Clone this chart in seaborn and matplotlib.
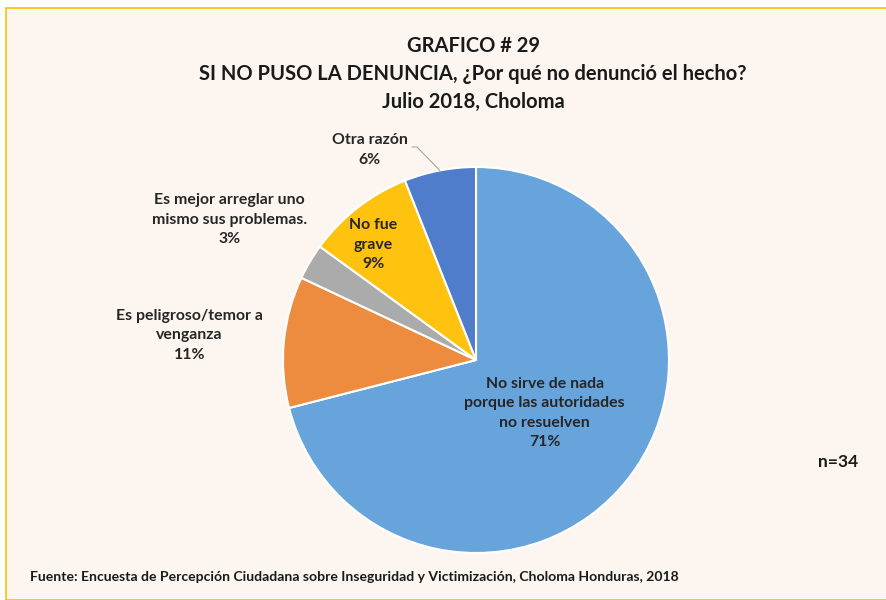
import matplotlib.pyplot as plt
import seaborn as sns
import numpy as np
from matplotlib.patches import Rectangle

# datos del grafico
categorias = ['No sirve de nada\nporque las autoridades\nno resuelven',
              'Es peligroso/temor a\nvenganza',
              'Es mejor arreglar uno\nmismo sus problemas.',
              'No fue\ngrave',
              'Otra razón']
porcentajes = [71, 11, 3, 9, 6]
colores = ['#67A4DB', '#ED8B3E', '#ABABAB', '#FFC20E', '#4F7CCB']

titulo = 'GRAFICO # 29\nSI NO PUSO LA DENUNCIA, ¿Por qué no denunció el hecho?\nJulio 2018, Choloma'
fuente = 'Fuente: Encuesta de Percepción Ciudadana sobre Inseguridad y Victimización, Choloma Honduras, 2018'
muestra = 'n=34'

sns.set_theme(style='white')
plt.rcParams['font.family'] = ['Lato', 'DejaVu Sans']

W, H = 886, 600
fig = plt.figure(figsize=(W / 100, H / 100), dpi=100)
fig.patch.set_facecolor('white')

# panel crema con borde amarillo
fig.patches.append(Rectangle((6 / W, 0), 1, 1 - 8 / H, transform=fig.transFigure,
                             facecolor='#FDF5EF', edgecolor='#FFC000', linewidth=1.2, zorder=-5))

cx, cy, r = 476, 360, 193
ax = fig.add_axes([(cx - r) / W, (H - cy - r) / H, 2 * r / W, 2 * r / H])
ax.set_facecolor('none')
ax.set_zorder(2)

wedges, _ = ax.pie(porcentajes, colors=sns.color_palette(colores), startangle=90,
                   counterclock=False, radius=1,
                   wedgeprops=dict(edgecolor='white', linewidth=1.5))
ax.set_xlim(-1, 1)
ax.set_ylim(-1, 1)
ax.set_aspect('equal')
ax.axis('off')

# distancia radial de cada etiqueta y desplazamiento angular
dist = [0.45, 1.49, 1.47, 0.80, 1.22]
shift = [0, 0.5, 1.0, 4.0, 16.0]
for w, cat, p, d, s in zip(wedges, categorias, porcentajes, dist, shift):
    ang = np.deg2rad((w.theta1 + w.theta2) / 2 + s)
    x, y = d * np.cos(ang), d * np.sin(ang)
    ax.text(x, y, f'{cat}\n{p}%', ha='center', va='center', fontsize=11.4,
            fontweight='bold', color='#262626', linespacing=1.5, clip_on=False)

# linea guia de "Otra razón"
ang_w = np.deg2rad((wedges[4].theta1 + wedges[4].theta2) / 2)
ax.plot([(412 - cx) / r, (417 - cx) / r, np.cos(ang_w)],
        [(cy - 147) / r, (cy - 147) / r, np.sin(ang_w)],
        color='#A6A6A6', linewidth=0.8, clip_on=False)

fig.text(473 / W, 1 - 74 / H, titulo, ha='center', va='center', fontsize=14.5,
         fontweight='bold', color='#1a1a1a', linespacing=1.5)
fig.text(838 / W, 1 - 462 / H, muestra, ha='center', va='center', fontsize=12.5,
         fontweight='bold', color='#1a1a1a')
fig.text(30 / W, 1 - 577 / H, fuente, ha='left', va='center', fontsize=10.1,
         fontweight='bold', color='#1a1a1a')

plt.savefig('out.png', dpi=100, facecolor=fig.get_facecolor())
